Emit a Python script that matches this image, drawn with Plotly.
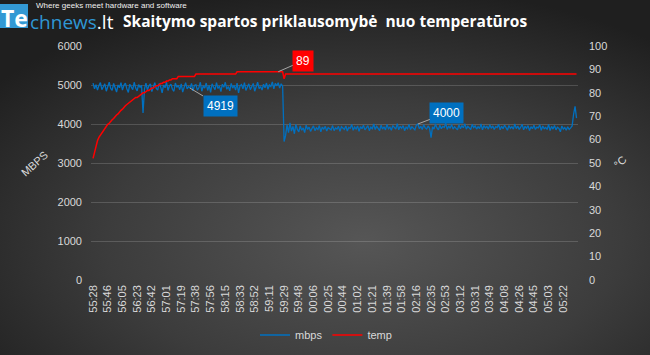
import base64
import plotly.graph_objects as go

# ---------------- data ----------------
time_labels = ["55:28", "55:46", "56:05", "56:23", "56:42", "57:01", "57:19", "57:38",
               "57:56", "58:15", "58:33", "58:52", "59:11", "59:29", "59:48", "00:06",
               "00:25", "00:44", "01:02", "01:21", "01:39", "01:58", "02:16", "02:35",
               "02:53", "03:12", "03:31", "03:49", "04:08", "04:26", "04:45", "05:03",
               "05:22"]
samples_per_label = 10

mbps = [
    # before the throttle
    5050, 4900, 5010, 4870, 4990, 5060, 4880, 4950, 5030, 4840,
    4980, 5070, 4910, 4860, 5040, 4950, 4820, 5000, 4930, 5060,
    4870, 4990, 5050, 4900, 4810, 5020, 4960, 4880, 5070, 4920,
    4850, 5010, 4940, 4990, 4280, 4900, 5050, 4870, 4980, 5030,
    4830, 4960, 5060, 4910, 4870, 5040, 4950, 4800, 5000, 4930,
    5070, 4860, 4980, 5020, 4890, 4840, 5050, 4940, 4990, 4880,
    5030, 4820, 4970, 5060, 4900, 4960, 4919, 5040, 4850, 4990,
    5010, 4870, 4930, 5070, 4840, 4980, 4920, 5050, 4860, 4990,
    4810, 5030, 4950, 4880, 5060, 4910, 4970, 4830, 5020, 4940,
    5070, 4890, 4960, 4850, 5040, 4920, 4990, 4870, 5050, 4800,
    4980, 5010, 4900, 5060, 4860, 4950, 5030, 4880, 4970, 5040,
    4840, 4990, 5070, 4910, 4960, 4870, 5020, 4930, 5050, 4890,
    5000, 4960, 5080, 4900, 5040, 4980, 5060, 4920, 5030, 4970,
    # drop
    3550,
    # after the throttle
    3700, 3980, 3780, 4030, 3820, 3940, 3750, 3990, 3860, 3800,
    3950, 3840, 3900, 3780, 3970, 3860, 3920, 3810, 3890, 3950,
    3830, 3900, 3860, 3960, 3800, 3920, 3870, 3940, 3820, 3910,
    3880, 3850, 3960, 3830, 3900, 3870, 3940, 3810, 3930, 3880,
    3860, 3950, 3820, 3910, 3890, 3990, 3840, 3920, 3870, 3950,
    3810, 3930, 3880, 3970, 3850, 3900, 3960, 3830, 3920, 3880,
    4000, 3860, 3940, 3890, 3830, 3970, 3870, 3930, 3850, 3990,
    3880, 3920, 3840, 3960, 3900, 3870, 4010, 3850, 3940, 3890,
    3960, 3830, 3920, 3880, 3990, 3860, 3930, 3900, 3850, 3970,
    4000, 3880, 3940, 3860, 3980, 3900, 3870, 3950, 3890, 3650,
    3930, 3870, 4000, 3900, 3850, 3970, 3880, 3940, 3910, 4020,
    3860, 3950, 3890, 3990, 3870, 3930, 3900, 3850, 3980, 3880,
    3960, 3900, 4010, 3870, 3940, 3890, 3860, 3990, 3910, 3950,
    3870, 3930, 3880, 4000, 3850, 3960, 3900, 3940, 3870, 3980,
    3890, 3950, 3860, 3930, 3910, 3990, 3850, 3940, 3880, 3970,
    3900, 3840, 3960, 3890, 3930, 3870, 4000, 3880, 3950, 3860,
    3920, 3990, 3850, 3940, 3890, 3960, 3830, 3930, 3880, 3970,
    3860, 3920, 3900, 3980, 3840, 3950, 3880, 3910, 3860, 3990,
    3830, 3940, 3870, 3960, 3850, 3920, 3890, 3800, 3950, 3870,
    3910, 3840, 3930, 3860, 3900,
    3950, 4250, 4450, 4150,
]

temp = [
    52, 55, 57.5, 59.5, 61, 62, 63, 64, 65, 66,
    66.5, 67, 68, 68.5, 69, 70, 70.5, 71, 72, 72.5,
    73, 74, 74.5, 75, 75.5, 76, 76.5, 77, 77.5, 78,
    78, 78.5, 79, 79.5, 80, 80, 80.5, 81, 81, 81.5,
    82, 82, 82.5, 83, 83, 83.5, 84, 84, 84.5, 84.5,
    85, 85, 85.5, 85.5, 86, 86, 86, 86,
    87, 87, 87, 87, 87, 87, 87, 87, 87, 87, 87, 87,
    88, 88, 88, 88, 88, 88, 88, 88, 88, 88, 88, 88, 88, 88,
    88, 88, 88, 88, 88, 88, 88, 88, 88, 88, 88, 88, 88, 88,
    89, 89, 89, 89, 89, 89, 89, 89, 89, 89, 89, 89, 89, 89, 89, 89,
    89, 89, 89, 89, 89, 89, 89, 89, 89, 89, 89, 89, 89, 89, 89, 89,
    86,
    88, 88, 88, 88, 88, 88, 88, 88, 88, 88, 88, 88, 88, 88, 88, 88, 88, 88, 88, 88,
    88, 88, 88, 88, 88, 88, 88, 88, 88, 88, 88, 88, 88, 88, 88, 88, 88, 88, 88, 88,
    88, 88, 88, 88, 88, 88, 88, 88, 88, 88, 88, 88, 88, 88, 88, 88, 88, 88, 88, 88,
    88, 88, 88, 88, 88, 88, 88, 88, 88, 88, 88, 88, 88, 88, 88, 88, 88, 88, 88, 88,
    88, 88, 88, 88, 88, 88, 88, 88, 88, 88, 88, 88, 88, 88, 88, 88, 88, 88, 88, 88,
    88, 88, 88, 88, 88, 88, 88, 88, 88, 88, 88, 88, 88, 88, 88, 88, 88, 88, 88, 88,
    88, 88, 88, 88, 88, 88, 88, 88, 88, 88, 88, 88, 88, 88, 88, 88, 88, 88, 88, 88,
    88, 88, 88, 88, 88, 88, 88, 88, 88, 88, 88, 88, 88, 88, 88, 88, 88, 88, 88, 88,
    88, 88, 88, 88, 88, 88, 88, 88, 88, 88, 88, 88, 88, 88, 88, 88, 88, 88, 88, 88,
    88, 88, 88, 88, 88, 88, 88, 88, 88, 88, 88, 88, 88, 88, 88, 88, 88, 88, 88,
]

# labelled points: (sample index, value, text)
label_4919 = (66, 4919, "4919")
label_4000 = (221, 4000, "4000")
label_89 = (126, 89, "89")

n = min(len(mbps), len(temp))
sample_idx = list(range(n))
tick_pos = [i * samples_per_label for i in range(len(time_labels))]

# ---------------- geometry helpers ----------------
W, H = 650, 355
PL, PR, PT, PB = 91, 578, 46, 280
pw, ph = PR - PL, PB - PT


def px(x):
    return (x - PL) / pw


def py(y):
    return (PB - y) / ph


TICK_FONT = dict(family="Liberation Sans", size=11, color="#d9d9d9")
BLUE = "#0070C0"
RED = "#FF0000"

fig = go.Figure()
fig.add_trace(go.Scatter(x=sample_idx, y=mbps[:n], name="mbps", mode="lines",
                         line=dict(color=BLUE, width=1.3)))
fig.add_trace(go.Scatter(x=sample_idx, y=temp[:n], name="temp", mode="lines", yaxis="y2",
                         line=dict(color=RED, width=1.5)))

# background radial gradient
svg = (
    '<svg xmlns="http://www.w3.org/2000/svg" width="650" height="355">'
    '<defs><radialGradient id="g" cx="56%" cy="68%" r="72%">'
    '<stop offset="0" stop-color="#565656"/>'
    '<stop offset="0.55" stop-color="#3c3c3c"/>'
    '<stop offset="1" stop-color="#1f1f1f"/>'
    '</radialGradient></defs>'
    '<rect width="650" height="355" fill="url(#g)"/></svg>'
)
src = "data:image/svg+xml;base64," + base64.b64encode(svg.encode()).decode()

annotations = [
    dict(text="<b>Skaitymo spartos priklausomybė  nuo temperatūros</b>",
         x=px(325), y=py(21), xref="paper", yref="paper", showarrow=False,
         xanchor="center", yanchor="middle",
         font=dict(family="Open Sans", size=15.5, color="#ffffff")),
    dict(text="Where geeks meet hardware and software",
         x=px(34), y=py(6), xref="paper", yref="paper", showarrow=False,
         xanchor="left", yanchor="middle",
         font=dict(family="Liberation Sans Narrow, Liberation Sans", size=8, color="#f0f0f0")),
    dict(text="<b>Te</b>",
         x=px(14), y=py(18), xref="paper", yref="paper", showarrow=False,
         xanchor="center", yanchor="middle",
         font=dict(family="Open Sans", size=23, color="#ffffff")),
    dict(text="<span style='color:#2f97d4'>chnews</span>.lt",
         x=px(28), y=py(22), xref="paper", yref="paper", showarrow=False,
         xanchor="left", yanchor="middle",
         font=dict(family="Open Sans", size=19, color="#ffffff")),
    dict(text="MBPS", x=px(34), y=py(164), xref="paper", yref="paper", showarrow=False,
         textangle=-42, xanchor="center", yanchor="middle",
         font=dict(family="Liberation Sans", size=11, color="#d9d9d9")),
    dict(text="°C", x=px(620), y=py(162), xref="paper", yref="paper", showarrow=False,
         textangle=-45, xanchor="center", yanchor="middle",
         font=dict(family="Liberation Sans", size=11, color="#d9d9d9")),
    dict(text=label_4919[2], x=label_4919[0], y=label_4919[1], xref="x", yref="y",
         showarrow=True, arrowhead=0, arrowwidth=1, arrowcolor="#a6a6a6", ax=30, ay=18,
         bgcolor=BLUE, borderpad=3,
         font=dict(family="Liberation Sans", size=12, color="#ffffff")),
    dict(text=label_4000[2], x=label_4000[0], y=label_4000[1], xref="x", yref="y",
         showarrow=True, arrowhead=0, arrowwidth=1, arrowcolor="#a6a6a6", ax=29, ay=-11,
         bgcolor=BLUE, borderpad=3,
         font=dict(family="Liberation Sans", size=12, color="#ffffff")),
    dict(text=label_89[2], x=label_89[0], y=label_89[1], xref="x", yref="y2",
         showarrow=True, arrowhead=0, arrowwidth=1, arrowcolor="#a6a6a6", ax=25, ay=-11,
         bgcolor=RED, borderpad=3,
         font=dict(family="Liberation Sans", size=12, color="#ffffff")),
]

shapes = [
    dict(type="rect", xref="paper", yref="paper", x0=px(0), x1=px(28), y0=py(28), y1=py(4),
         fillcolor="#3399d4", line=dict(width=0), layer="below"),
]

fig.update_layout(
    width=W, height=H,
    margin=dict(l=PL, r=W - PR, t=PT, b=H - PB, autoexpand=False),
    paper_bgcolor="#3a3a3a",
    plot_bgcolor="rgba(0,0,0,0)",
    images=[dict(source=src, xref="paper", yref="paper", x=px(0), y=py(0),
                 sizex=W / pw, sizey=H / ph, sizing="stretch", layer="below",
                 xanchor="left", yanchor="top")],
    shapes=shapes,
    annotations=annotations,
    showlegend=True,
    legend=dict(orientation="h", x=px(326), y=py(335), xanchor="center", yanchor="middle",
                font=dict(family="Liberation Sans", size=11, color="#d9d9d9"),
                bgcolor="rgba(0,0,0,0)", itemwidth=30),
    xaxis=dict(range=[-1.4, 330], tickmode="array", tickvals=tick_pos, ticktext=time_labels,
               tickangle=-90, showgrid=False, zeroline=False, showline=False, ticks="",
               tickfont=TICK_FONT, ticklabelstandoff=2),
    yaxis=dict(range=[0, 6000], dtick=1000, showgrid=True, gridcolor="rgba(255,255,255,0.16)",
               gridwidth=1, zeroline=False, showline=False, ticks="", tickfont=TICK_FONT,
               ticklabelstandoff=8),
    yaxis2=dict(range=[0, 100], dtick=10, overlaying="y", side="right", showgrid=False,
                zeroline=False, showline=False, ticks="", tickfont=TICK_FONT,
                ticklabelstandoff=10),
)

fig.write_html("out.html")
